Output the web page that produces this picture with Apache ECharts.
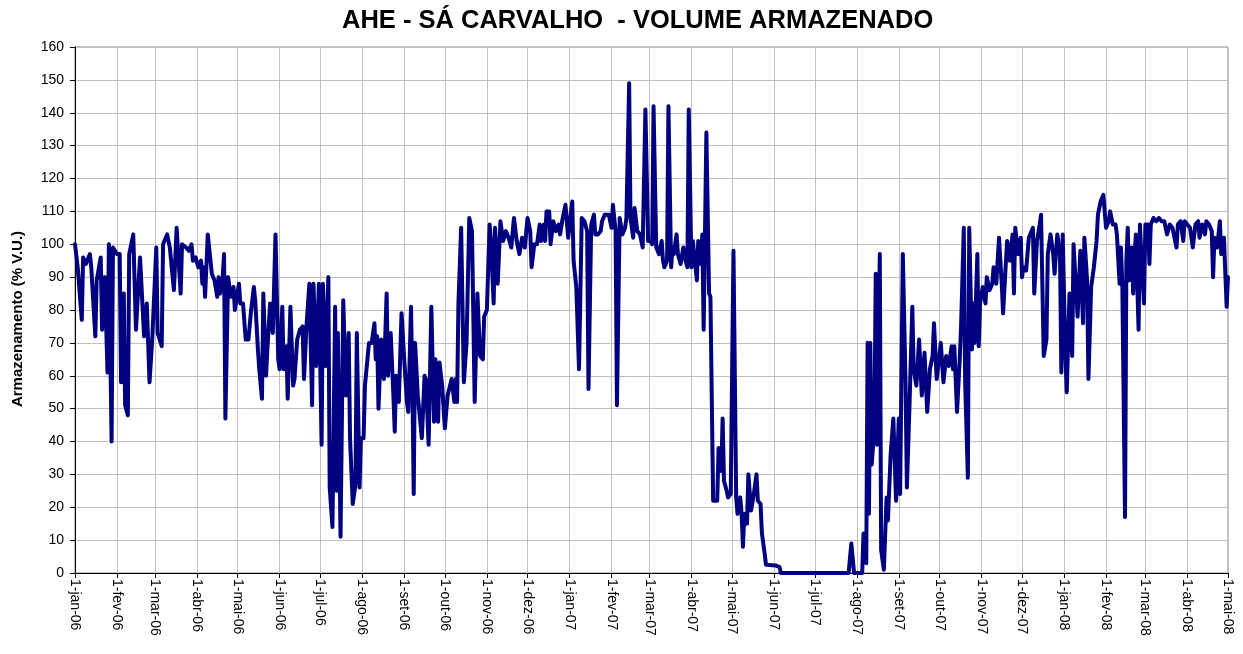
<!DOCTYPE html>
<html><head><meta charset="utf-8">
<script src="https://cdn.jsdelivr.net/npm/echarts@6/dist/echarts.min.js"></script>
<style>html,body{margin:0;padding:0;background:#fff}#c{width:1243px;height:654px}</style>
</head><body><div id="c"></div>
<script>
const chartTitle = 'AHE - SÁ CARVALHO  - VOLUME ARMAZENADO';
const yAxisName = 'Armazenamento (% V.U.)';
const monthNames = ['jan','fev','mar','abr','mai','jun','jul','ago','set','out','nov','dez'];
const firstDay = '2006-01-01';
const lastDay = '2008-05-01';
const yTicks = [0,10,20,30,40,50,60,70,80,90,100,110,120,130,140,150,160];

// days since 1-jan-2006
const dayOffsets = [
0,2,5,6,8,11,12,15,16,19,20,22,24,25,27,28,31,33,34,36,37,39,40,43,45,48,51,53,55,57,60,61,64,65,68,
70,73,75,78,79,82,84,86,87,89,91,93,94,95,96,98,101,103,105,106,107,109,110,111,113,115,117,118,121,122,124,126,128,130,132,133,135,136,138,139,
141,142,144,146,148,150,151,153,154,156,157,159,161,162,164,166,168,169,171,173,175,176,178,180,182,183,185,187,188,190,192,193,194,196,198,200,202,203,205,207,208,
210,211,213,214,217,219,221,222,223,224,226,228,230,231,233,235,236,237,239,241,243,245,246,248,249,250,251,253,256,258,259,261,263,265,266,268,269,271,273,275,278,
279,280,281,282,283,285,287,289,291,293,295,297,299,301,302,304,306,307,309,310,312,314,316,318,320,322,324,326,328,330,332,334,336,337,339,341,343,344,346,
347,348,350,351,353,355,357,358,360,362,364,365,367,368,370,372,374,376,378,379,381,383,384,386,388,389,391,394,396,397,399,400,402,404,406,407,409,410,412,413,415,417,419,
421,423,425,426,427,429,431,433,434,435,437,438,440,441,442,444,445,447,449,450,452,453,455,456,458,459,460,462,463,464,466,468,469,471,472,474,475,477,478,479,481,482,484,486,488,489,
491,492,493,494,496,497,499,501,502,503,504,506,507,509,510,517,520,521,571,573,575,581,582,584,585,586,587,588,590,591,592,594,595,597,599,600,602,604,606,608,609,611,613,614,616,618,619,621,623,625,627,629,
631,633,634,636,638,639,641,643,645,647,648,649,651,653,654,656,657,659,660,662,663,664,666,667,668,670,672,673,675,677,678,680,682,684,685,687,688,690,692,693,694,696,698,
699,700,702,704,705,707,708,710,712,713,715,717,718,720,722,723,725,727,728,729,731,732,734,736,737,738,740,742,744,745,747,748,750,752,754,755,757,759,761,763,764,766,768,769,
771,772,773,775,776,777,778,780,781,782,783,785,786,787,789,790,792,793,794,796,798,800,802,804,806,808,810,813,814,816,818,819,821,823,825,827,829,830,832,834,835,837,839,840,841,843,845,846,848,850,851
];
const volumePct = [
100,93,77,96,94,97,93,72,89,96,74,90,61,100,40,99,97,97,58,85,51,48,97,103,74,96,72,82,58,71,99,73,69,100,103,
99,86,105,85,100,99,98,100,95,96,93,95,88,93,84,103,91,89,84,90,85,90,97,47,90,84,87,80,88,82,82,71,71,80,87,83,68,62,53,85,
60,68,82,73,103,65,62,81,62,69,53,81,57,59,71,74,75,59,76,88,51,88,63,88,39,88,63,90,26,14,81,25,73,11,83,54,73,41,21,27,73,
26,41,41,57,70,70,76,65,72,50,71,59,85,60,73,54,43,60,52,79,65,52,49,81,58,24,70,54,41,60,59,39,81,46,65,46,64,57,44,54,59,
59,52,59,52,82,105,58,70,108,104,52,85,66,65,78,80,106,101,82,105,88,107,101,104,102,99,108,101,97,102,99,108,104,93,100,100,106,101,106,
101,110,110,100,107,104,106,103,108,112,102,106,113,95,87,62,108,107,104,56,106,109,103,103,104,107,109,109,105,112,104,51,108,103,105,108,149,108,102,111,104,103,99,
141,101,101,100,142,99,97,101,95,93,95,142,93,99,97,103,97,94,99,96,93,141,93,101,93,89,101,94,103,74,134,85,84,22,22,22,38,31,47,28,25,23,24,98,23,18,
23,18,8,18,15,30,19,24,27,30,22,21,12,6,2.5,2.3,1.8,0,0,9,0,0,12,3,70,18,70,33,44,91,39,97,7,1,23,16,36,47,22,47,24,97,58,26,52,81,62,57,71,54,67,49,
62,66,76,59,66,70,58,66,63,69,62,69,49,65,75,105,58,29,105,68,82,70,97,69,82,87,82,90,86,88,93,88,102,88,79,94,101,95,103,85,105,97,102,
90,93,92,102,103,105,85,101,106,109,66,71,97,103,97,91,103,97,61,103,66,55,85,66,100,100,78,98,76,102,89,59,87,93,101,109,113,115,105,107,110,106,106,103,
88,99,88,17,95,105,89,99,85,96,103,74,106,97,82,106,106,94,106,108,107,108,107,107,103,106,105,99,106,107,101,107,106,105,99,106,107,102,106,103,107,106,104,90,102,99,107,97,102,81,90
];

// daily category list
const categories = [];
{
  let t = Date.parse(firstDay + 'T00:00:00Z');
  const end = Date.parse(lastDay + 'T00:00:00Z');
  while (t <= end) {
    const d = new Date(t);
    categories.push(d.getUTCDate() + '-' + monthNames[d.getUTCMonth()] + '-' + String(d.getUTCFullYear()).slice(2));
    t += 86400000;
  }
}
const isMonthStart = (idx, val) => String(val).startsWith('1-');
const seriesData = dayOffsets.map((d, i) => [d, volumePct[i]]);
const FONT = 'Arial, "Liberation Sans", sans-serif';

const chart = echarts.init(document.getElementById('c'), null, {renderer: 'canvas'});
chart.setOption({
  animation: false,
  backgroundColor: '#ffffff',
  title: {
    text: chartTitle,
    left: 337, top: 3,
    textStyle: {fontFamily: FONT, fontWeight: 'bold', fontSize: 25.5, color: '#000'}
  },
  grid: {left: 75, right: 15, top: 47, bottom: 81, show: true, borderColor: '#808080', borderWidth: 1, backgroundColor: '#fff'},
  xAxis: {
    type: 'category',
    data: categories,
    boundaryGap: false,
    axisLine: {show: true, lineStyle: {color: '#000', width: 1}},
    axisTick: {show: true, interval: isMonthStart, length: 5, lineStyle: {color: '#000'}},
    axisLabel: {interval: isMonthStart, rotate: -90, margin: 6, fontSize: 14, color: '#000', fontFamily: FONT},
    splitLine: {show: true, interval: isMonthStart, lineStyle: {color: '#c0c0c0', width: 1}}
  },
  yAxis: {
    type: 'value', min: yTicks[0], max: yTicks[yTicks.length - 1], interval: 10,
    name: yAxisName, nameLocation: 'middle', nameGap: 50,
    nameTextStyle: {fontFamily: FONT, fontWeight: 'bold', fontSize: 15, color: '#000', padding: [0, 18, 0, 0]},
    axisLine: {show: true, lineStyle: {color: '#000', width: 1}},
    axisTick: {show: true, length: 5, lineStyle: {color: '#000'}},
    axisLabel: {fontSize: 14, color: '#000', margin: 11, fontFamily: FONT},
    splitLine: {show: true, lineStyle: {color: '#c0c0c0', width: 1}}
  },
  series: [{
    type: 'line',
    data: seriesData,
    showSymbol: false,
    symbol: 'none',
    sampling: null,
    lineStyle: {color: '#000080', width: 4, cap: 'round', join: 'round'},
    z: 3
  }]
});
</script>
</body></html>
